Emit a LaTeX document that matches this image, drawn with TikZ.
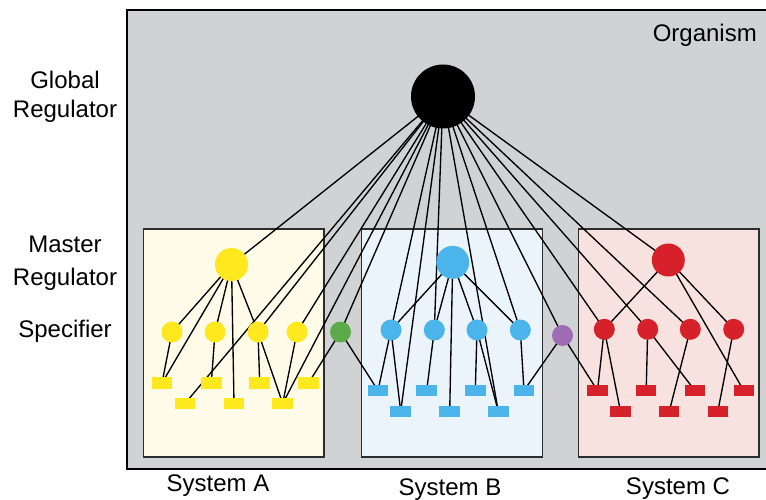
\documentclass[tikz,border=0pt]{standalone}
\usepackage{fontspec}
\setmainfont{Liberation Sans}
\definecolor{orgbg}{RGB}{208,210,212}
\definecolor{boxA}{RGB}{254,252,232}
\definecolor{boxB}{RGB}{235,243,251}
\definecolor{boxC}{RGB}{247,226,223}
\definecolor{yel}{RGB}{255,232,30}
\definecolor{blu}{RGB}{75,180,234}
\definecolor{redc}{RGB}{214,32,42}
\definecolor{grn}{RGB}{92,171,74}
\definecolor{pur}{RGB}{157,108,179}
\definecolor{boxline}{RGB}{45,45,45}
\pgfdeclarelayer{boxes}
\pgfdeclarelayer{edges}
\pgfsetlayers{boxes,edges,main}
\begin{document}
\begin{tikzpicture}[x=1pt,y=-1pt,
  edge/.style={line width=1.35pt, black},
  glob/.style={circle, fill=black, minimum size=64pt, inner sep=0pt},
  master/.style={circle, minimum size=33pt, inner sep=0pt},
  spec/.style={circle, minimum size=21pt, inner sep=0pt},
  gene/.style={rectangle, minimum width=20.5pt, minimum height=11.5pt, inner sep=0pt},
  sysbox/.style={draw=boxline, line width=1.8pt},
  lbl/.style={font=\fontsize{24}{28}\selectfont, anchor=base, inner sep=0pt}]
\useasboundingbox (0,0) rectangle (766,500);
\begin{pgfonlayer}{boxes}
\fill[orgbg] (127,10) rectangle (790,469);
\draw[line width=1.6pt, black] (790,10) -- (127,10) -- (127,469) -- (790,469);
\draw[sysbox, fill=boxA] (143.5,229) rectangle (324,457);
\draw[sysbox, fill=boxB] (361.5,229) rectangle (542.5,457);
\draw[sysbox, fill=boxC] (578.5,229) rectangle (759,457);
\end{pgfonlayer}
% labels
\node[lbl] (lg1) at (65,88.5) {Global};
\node[lbl] (lg2) at (65,118) {Regulator};
\node[lbl] (lm1) at (65,252.5) {Master};
\node[lbl] (lm2) at (65,285) {Regulator};
\node[lbl] (ls) at (65,337) {Specifier};
\node[lbl, anchor=base east] (org) at (757,42) {Organism};
\node[lbl] (sa) at (218,491) {System A};
\node[lbl] (sb) at (450,495) {System B};
\node[lbl] (sc) at (678,494) {System C};
% global
\node[glob] (G) at (443,96.5) {};
% system A
\node[master, fill=yel] (MA) at (231.5,264.5) {};
\node[spec, fill=yel] (SA1) at (172,332) {};
\node[spec, fill=yel] (SA2) at (215,332) {};
\node[spec, fill=yel] (SA3) at (258,332) {};
\node[spec, fill=yel] (SA4) at (297,332) {};
\node[gene, fill=yel] (RA1) at (162,383) {};
\node[gene, fill=yel] (RA2) at (211.3,383) {};
\node[gene, fill=yel] (RA3) at (259.7,383) {};
\node[gene, fill=yel] (RA4) at (308.5,383) {};
\node[gene, fill=yel] (RA5) at (185,403.5) {};
\node[gene, fill=yel] (RA6) at (234,403.5) {};
\node[gene, fill=yel] (RA7) at (282.7,403.5) {};
% system B
\node[master, fill=blu] (MB) at (452.7,262.3) {};
\node[spec, fill=blu] (SB1) at (391,330) {};
\node[spec, fill=blu] (SB2) at (434.3,330) {};
\node[spec, fill=blu] (SB3) at (477,330) {};
\node[spec, fill=blu] (SB4) at (520.3,330) {};
\node[gene, fill=blu] (RB1) at (378,390.5) {};
\node[gene, fill=blu] (RB2) at (426.7,390.5) {};
\node[gene, fill=blu] (RB3) at (475.3,390.5) {};
\node[gene, fill=blu] (RB4) at (524,390.5) {};
\node[gene, fill=blu] (RB5) at (400.7,411.5) {};
\node[gene, fill=blu] (RB6) at (449.7,411.5) {};
\node[gene, fill=blu] (RB7) at (498.3,411.5) {};
% system C
\node[master, fill=redc] (MC) at (668.3,260) {};
\node[spec, fill=redc] (SC1) at (604.3,329.3) {};
\node[spec, fill=redc] (SC2) at (647.7,329.3) {};
\node[spec, fill=redc] (SC3) at (690.3,329.3) {};
\node[spec, fill=redc] (SC4) at (733.7,329.3) {};
\node[gene, fill=redc] (RC1) at (597.5,390.7) {};
\node[gene, fill=redc] (RC2) at (646.2,390.7) {};
\node[gene, fill=redc] (RC3) at (695,390.7) {};
\node[gene, fill=redc] (RC4) at (743.8,390.7) {};
\node[gene, fill=redc] (RC5) at (620.5,411.5) {};
\node[gene, fill=redc] (RC6) at (669.2,411.5) {};
\node[gene, fill=redc] (RC7) at (717.8,411.5) {};
% shared
\node[spec, fill=grn] (GR) at (340.5,332) {};
\node[spec, fill=pur] (PU) at (562.5,335.5) {};
\begin{pgfonlayer}{edges}
\foreach \t in {MA,RA5,SA3,SA4,RA7,GR,SB1,RB5,SB2,RB7,SB4,PU,SC1,SC2,SC3,MC}
  \draw[edge] (G.center) -- (\t.center);
\foreach \a/\b in {MA/SA1,MA/RA1,MA/SA2,MA/RA6,MA/SA3,SA1/RA1,SA2/RA2,SA3/RA3,SA3/RA7,SA4/RA7,
  GR/RA4,GR/RB1,
  MB/SB1,MB/SB2,MB/RB6,MB/SB3,MB/SB4,SB1/RB1,SB1/RB5,SB2/RB2,SB3/RB3,SB3/RB7,SB4/RB4,
  PU/RB4,PU/RC1,
  MC/SC1,MC/SC4,MC/RC4,SC1/RC1,SC1/RC5,SC2/RC2,SC2/RC3,SC3/RC6,SC4/RC7}
  \draw[edge] (\a.center) -- (\b.center);
\end{pgfonlayer}
\end{tikzpicture}
\end{document}
